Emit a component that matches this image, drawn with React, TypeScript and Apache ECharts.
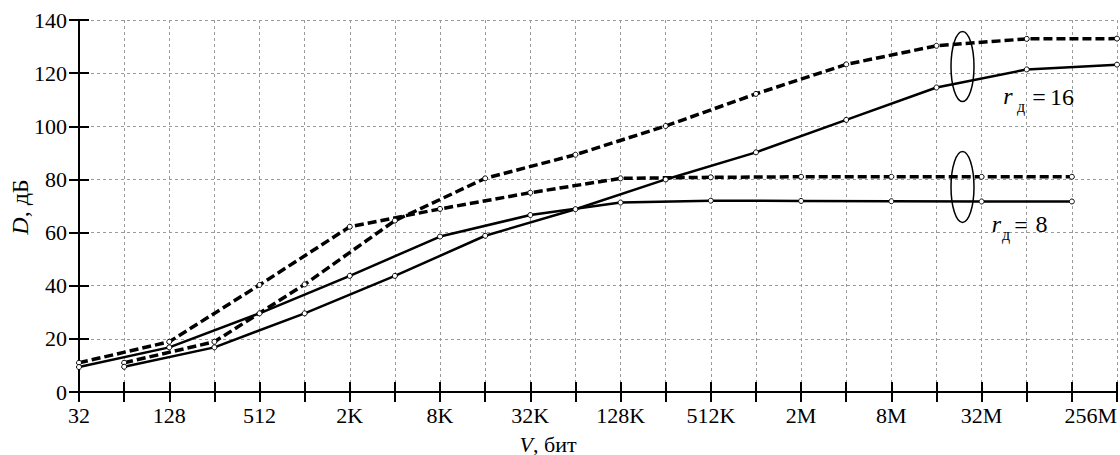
import React, { useEffect, useRef } from "react";
import * as echarts from "echarts";

const K = 1024;
const M = 1024 * 1024;

// x-axis tick labels (bits)
const xTickSizes = [32, 128, 512, 2 * K, 8 * K, 32 * K, 128 * K, 512 * K, 2 * M, 8 * M, 32 * M, 256 * M];
const xTickLabels = ["32", "128", "512", "2K", "8K", "32K", "128K", "512K", "2M", "8M", "32M", "256M"];

// r_д = 8
const r8Sizes = [32, 128, 512, 2 * K, 8 * K, 32 * K, 128 * K, 512 * K, 2 * M, 8 * M, 32 * M, 128 * M];
const r8Dashed = [11.0, 18.9, 40.3, 62.2, 68.9, 75.0, 80.4, 80.8, 81.0, 81.0, 81.0, 81.0];
const r8Solid = [9.4, 16.8, 29.6, 43.7, 58.5, 66.6, 71.3, 72.0, 71.9, 71.8, 71.7, 71.7];

// r_д = 16
const r16Sizes = [64, 256, 1 * K, 4 * K, 16 * K, 64 * K, 256 * K, 1 * M, 4 * M, 16 * M, 64 * M, 256 * M];
const r16Dashed = [11.0, 18.9, 40.5, 64.5, 80.4, 89.3, 100.1, 112.2, 123.3, 130.3, 132.9, 133.0];
const r16Solid = [9.5, 16.8, 29.6, 43.7, 58.8, 68.8, 80.0, 90.2, 102.4, 114.6, 121.4, 123.2];

const FONT = "'Liberation Serif', 'Times New Roman', serif";
const BASE = 32;
const toX = (s: number) => Math.log2(s / BASE);
const X_MAX = toX(256 * M);

const labelMap: Record<number, string> = {};
xTickSizes.forEach((s, i) => {
  labelMap[Math.round(toX(s))] = xTickLabels[i];
});

const pairs = (sizes: number[], vals: number[]) => sizes.map((s, i) => [toX(s), vals[i]]);

const markerStyle = { color: "#fff", borderColor: "#000", borderWidth: 1 };

function makeSeries(name: string, sizes: number[], vals: number[], dashed: boolean) {
  return {
    name,
    type: "line",
    data: pairs(sizes, vals),
    symbol: "circle",
    symbolSize: 5,
    showAllSymbol: true,
    itemStyle: markerStyle,
    lineStyle: dashed
      ? { color: "#000", width: 3.5, type: [9, 4] }
      : { color: "#000", width: 2.5, type: "solid" },
    z: 3,
  };
}

const txt = (x: number, y: number, text: string, font: string) => ({
  type: "text",
  x,
  y,
  z: 100,
  style: { text, font, fill: "#000", align: "center", verticalAlign: "middle" },
});

export default function App() {
  const ref = useRef<HTMLDivElement>(null);
  useEffect(() => {
    if (!ref.current) return;
    const chart = echarts.init(ref.current, undefined, { renderer: "svg" });
    const axisLineStyle = { color: "#000", width: 2 };
    const splitLineStyle = { color: "#9a9a9a", width: 1, type: [3, 3] };
    chart.setOption({
      animation: false,
      backgroundColor: "#fff",
      textStyle: { fontFamily: FONT },
      grid: { left: 79, top: 20, width: 1042, height: 372, containLabel: false },
      xAxis: [
        {
          type: "value",
          position: "bottom",
          min: 0,
          max: X_MAX,
          interval: 1,
          axisLine: { show: true, lineStyle: axisLineStyle },
          axisTick: { show: true, inside: true, length: 10, lineStyle: axisLineStyle },
          axisLabel: {
            show: true,
            color: "#000",
            fontFamily: FONT,
            fontSize: 22,
            margin: 12,
            alignMaxLabel: "right",
            showMaxLabel: true,
            showMinLabel: true,
            formatter: (v: number) => labelMap[Math.round(v)] ?? "",
          },
          splitLine: { show: true, lineStyle: splitLineStyle },
        },
        {
          type: "value",
          position: "top",
          min: 0,
          max: X_MAX,
          interval: 1,
          axisLine: { show: true, lineStyle: axisLineStyle },
          axisTick: { show: true, inside: true, length: 10, lineStyle: axisLineStyle },
          axisLabel: { show: false },
          splitLine: { show: false },
        },
      ],
      yAxis: [
        {
          type: "value",
          position: "left",
          min: 0,
          max: 140,
          interval: 20,
          axisLine: { show: true, lineStyle: axisLineStyle },
          axisTick: { show: true, inside: true, length: 10, lineStyle: axisLineStyle },
          axisLabel: { color: "#000", fontFamily: FONT, fontSize: 22, margin: 12 },
          splitLine: { show: true, lineStyle: splitLineStyle },
        },
        {
          type: "value",
          position: "right",
          min: 0,
          max: 140,
          interval: 20,
          axisLine: { show: true, lineStyle: axisLineStyle },
          axisTick: { show: true, inside: true, length: 10, lineStyle: axisLineStyle },
          axisLabel: { show: false },
          splitLine: { show: false },
        },
      ],
      series: [
        makeSeries("r8 dashed", r8Sizes, r8Dashed, true),
        makeSeries("r8 solid", r8Sizes, r8Solid, false),
        makeSeries("r16 dashed", r16Sizes, r16Dashed, true),
        makeSeries("r16 solid", r16Sizes, r16Solid, false),
      ],
      graphic: [
        {
          type: "ellipse",
          shape: { cx: 962.5, cy: 66.5, rx: 11.5, ry: 35 },
          style: { fill: "none", stroke: "#000", lineWidth: 1.5 },
          z: 100,
        },
        {
          type: "ellipse",
          shape: { cx: 962.5, cy: 187, rx: 11.5, ry: 35.5 },
          style: { fill: "none", stroke: "#000", lineWidth: 1.5 },
          z: 100,
        },
        txt(1008, 96, "r", `italic 24px ${FONT}`),
        txt(1021, 106, "д", `16px ${FONT}`),
        txt(1039, 97, "=", `24px ${FONT}`),
        txt(1062, 97, "16", `24px ${FONT}`),
        txt(996.5, 224, "r", `italic 24px ${FONT}`),
        txt(1006, 234, "д", `16px ${FONT}`),
        txt(1021, 225, "=", `24px ${FONT}`),
        txt(1041.5, 224, "8", `24px ${FONT}`),
        {
          type: "text",
          x: 548,
          y: 444,
          z: 100,
          style: {
            text: "{i|V}, {n|бит}",
            font: `22px ${FONT}`,
            fill: "#000",
            align: "center",
            verticalAlign: "middle",
            rich: {
              i: { fontStyle: "italic", fontSize: 22, fontFamily: FONT, fill: "#000" },
              n: { fontSize: 22, fontFamily: FONT, fill: "#000" },
            },
          },
        },
        {
          type: "text",
          x: 20,
          y: 207,
          rotation: Math.PI / 2,
          z: 100,
          style: {
            text: "{i|D}, {n|дБ}",
            font: `24px ${FONT}`,
            fill: "#000",
            align: "center",
            verticalAlign: "middle",
            rich: {
              i: { fontStyle: "italic", fontSize: 24, fontFamily: FONT, fill: "#000" },
              n: { fontSize: 24, fontFamily: FONT, fill: "#000" },
            },
          },
        },
      ],
    });
    return () => chart.dispose();
  }, []);
  return (
    <div
      ref={ref}
      style={{ position: "fixed", left: 0, top: 0, width: 1120, height: 455, background: "#fff" }}
    />
  );
}
